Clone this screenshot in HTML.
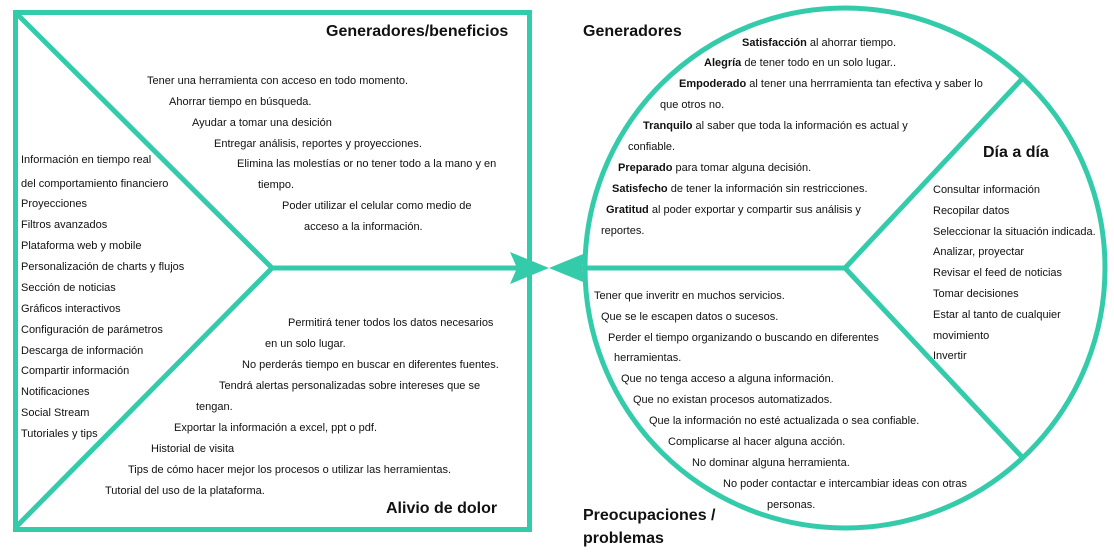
<!DOCTYPE html>
<html><head><meta charset="utf-8"><style>
html,body{margin:0;padding:0;background:#fff;}
svg{display:block;}
text{font-family:"Liberation Sans",sans-serif;font-size:11px;fill:#111;}
.t{font-size:16px;font-weight:bold;}
.b{font-weight:bold;}
</style></head><body>
<svg width="1114" height="555" viewBox="0 0 1114 555" xmlns="http://www.w3.org/2000/svg">
<g stroke="#34cbab" fill="none" stroke-width="5">
<rect x="15.5" y="12.5" width="514" height="517"/>
<line x1="16" y1="13" x2="272" y2="268"/>
<line x1="272" y1="268" x2="16" y2="527"/>
<line x1="272" y1="268" x2="520" y2="268"/>
<circle cx="845" cy="268" r="260"/>
<line x1="580" y1="268" x2="845" y2="268"/>
<line x1="845" y1="268" x2="1022" y2="79"/>
<line x1="845" y1="268" x2="1022" y2="457"/>
</g>
<polygon points="510,252 549,268 510,284 517,268" fill="#34cbab"/>
<polygon points="588,252 549,268 588,284 581,268" fill="#34cbab"/>

<text class="t" x="326" y="36">Generadores/beneficios</text>
<text x="147" y="84">Tener una herramienta con acceso en todo momento.</text>
<text x="169" y="105">Ahorrar tiempo en búsqueda.</text>
<text x="192" y="126">Ayudar a tomar una desición</text>
<text x="214" y="147">Entregar análisis, reportes y proyecciones.</text>
<text x="237" y="167">Elimina las molestías or no tener todo a la mano y en</text>
<text x="258" y="188">tiempo.</text>
<text x="282" y="209">Poder utilizar el celular como medio de</text>
<text x="304" y="230">acceso a la información.</text>

<text x="21" y="163">Información en tiempo real</text>
<text x="21" y="187">del comportamiento financiero</text>
<text x="21" y="207">Proyecciones</text>
<text x="21" y="228">Filtros avanzados</text>
<text x="21" y="249">Plataforma web y mobile</text>
<text x="21" y="270">Personalización de charts y flujos</text>
<text x="21" y="291">Sección de noticias</text>
<text x="21" y="312">Gráficos interactivos</text>
<text x="21" y="333">Configuración de parámetros</text>
<text x="21" y="354">Descarga de información</text>
<text x="21" y="374">Compartir información</text>
<text x="21" y="395">Notificaciones</text>
<text x="21" y="416">Social Stream</text>
<text x="21" y="437">Tutoriales y tips</text>

<text x="288" y="326">Permitirá tener todos los datos necesarios</text>
<text x="265" y="347">en un solo lugar.</text>
<text x="242" y="368">No perderás tiempo en buscar en diferentes fuentes.</text>
<text x="219" y="389">Tendrá alertas personalizadas sobre intereses que se</text>
<text x="196" y="410">tengan.</text>
<text x="174" y="431">Exportar la información a excel, ppt o pdf.</text>
<text x="151" y="452">Historial de visita</text>
<text x="128" y="473">Tips de cómo hacer mejor los procesos o utilizar las herramientas.</text>
<text x="105" y="494">Tutorial del uso de la plataforma.</text>
<text class="t" x="386" y="513">Alivio de dolor</text>

<text class="t" x="583" y="36">Generadores</text>
<text x="742" y="46"><tspan class="b">Satisfacción</tspan> al ahorrar tiempo.</text>
<text x="704" y="66"><tspan class="b">Alegría</tspan> de tener todo en un solo lugar..</text>
<text x="679" y="87"><tspan class="b">Empoderado</tspan> al tener una herrramienta tan efectiva y saber lo</text>
<text x="660" y="108">que otros no.</text>
<text x="643" y="129"><tspan class="b">Tranquilo</tspan> al saber que toda la información es actual y</text>
<text x="628" y="150">confiable.</text>
<text x="618" y="171"><tspan class="b">Preparado</tspan> para tomar alguna decisión.</text>
<text x="612" y="192"><tspan class="b">Satisfecho</tspan> de tener la información sin restricciones.</text>
<text x="606" y="213"><tspan class="b">Gratitud</tspan> al poder exportar y compartir sus análisis y</text>
<text x="601" y="234">reportes.</text>

<text class="t" x="983" y="157">Día a día</text>
<text x="933" y="193">Consultar información</text>
<text x="933" y="214">Recopilar datos</text>
<text x="933" y="235">Seleccionar la situación indicada.</text>
<text x="933" y="255">Analizar, proyectar</text>
<text x="933" y="276">Revisar el feed de noticias</text>
<text x="933" y="297">Tomar decisiones</text>
<text x="933" y="318">Estar al tanto de cualquier</text>
<text x="933" y="339">movimiento</text>
<text x="933" y="359">Invertir</text>

<text x="594" y="299">Tener que inveritr en muchos servicios.</text>
<text x="601" y="320">Que se le escapen datos o sucesos.</text>
<text x="608" y="341">Perder el tiempo organizando o buscando en diferentes</text>
<text x="614" y="361">herramientas.</text>
<text x="621" y="382">Que no tenga acceso a alguna información.</text>
<text x="633" y="403">Que no existan procesos automatizados.</text>
<text x="649" y="424">Que la información no esté actualizada o sea confiable.</text>
<text x="668" y="445">Complicarse al hacer alguna acción.</text>
<text x="692" y="466">No dominar alguna herramienta.</text>
<text x="723" y="487">No poder contactar e intercambiar ideas con otras</text>
<text x="767" y="508">personas.</text>
<text class="t" x="583" y="520">Preocupaciones /</text>
<text class="t" x="583" y="543">problemas</text>
</svg>
</body></html>
